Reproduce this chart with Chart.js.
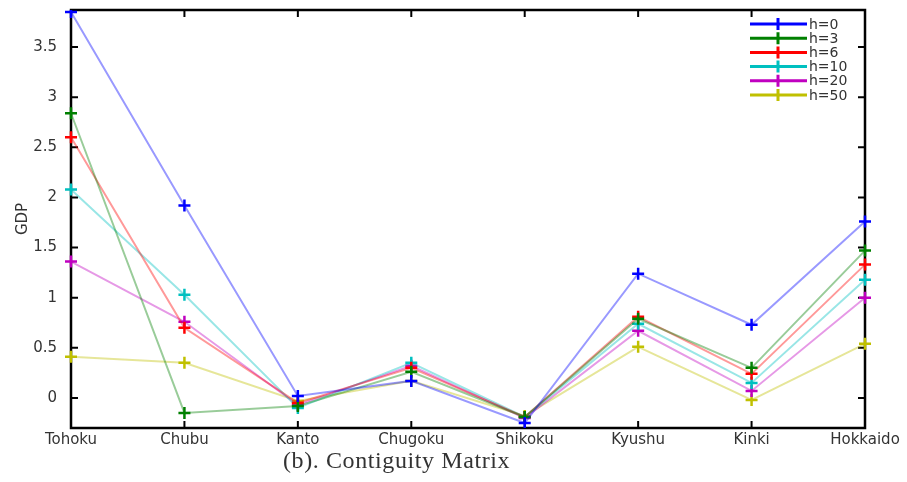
<!DOCTYPE html>
<html>
<head>
<meta charset="utf-8">
<script src="https://cdn.jsdelivr.net/npm/chart.js@4"></script>
<style>
  html, body { margin: 0; padding: 0; background: #fff; }
  #wrap { position: relative; width: 907px; height: 482px; }
  #caption {
    position: absolute; left: 283px; top: 447px;
    font: 24px 'Liberation Serif', serif; letter-spacing: 0.6px;
    color: #333; white-space: nowrap;
  }
</style>
</head>
<body>
<div id="wrap">
  <canvas id="myChart" width="907" height="482"></canvas>
  <div id="caption">(b). Contiguity Matrix</div>
</div>
<script>
const regions = ['Tohoku', 'Chubu', 'Kanto', 'Chugoku', 'Shikoku', 'Kyushu', 'Kinki', 'Hokkaido'];

const h0  = [3.85, 1.92, 0.02, 0.17, -0.25, 1.24, 0.73, 1.76];
const h3  = [2.84, -0.15, -0.08, 0.26, -0.19, 0.79, 0.30, 1.47];
const h6  = [2.60, 0.70, -0.05, 0.30, -0.19, 0.81, 0.24, 1.33];
const h10 = [2.08, 1.03, -0.10, 0.35, -0.19, 0.74, 0.15, 1.18];
const h20 = [1.36, 0.76, -0.07, 0.32, -0.20, 0.67, 0.07, 1.00];
const h50 = [0.41, 0.35, -0.03, 0.17, -0.18, 0.51, -0.02, 0.54];

const seriesLabels = ['h=0', 'h=3', 'h=6', 'h=10', 'h=20', 'h=50'];
const yTicks = [0, 0.5, 1, 1.5, 2, 2.5, 3, 3.5];

const colors = ['0,0,255', '0,128,0', '255,0,0', '0,192,192', '192,0,192', '192,192,0'];

const ctx = document.querySelector('#myChart').getContext('2d');

function makeSet(label, values, rgb) {
    return {
        label: label,
        data: values,
        borderColor: 'rgba(' + rgb + ',0.4)',
        borderWidth: 2,
        pointStyle: 'cross',
        pointRadius: 6,
        pointBorderWidth: 2.5,
        pointBorderColor: 'rgb(' + rgb + ')',
        pointBackgroundColor: 'rgb(' + rgb + ')',
        tension: 0,
        fill: false,
    };
}

const allSeries = [h0, h3, h6, h10, h20, h50];

// box round the plot, with ticks pointing inward on all four sides
const frame = {
    id: 'frame',
    beforeDatasetsDraw(chart) {
        const a = chart.chartArea;
        const c = chart.ctx;
        const x = chart.scales.x;
        const y = chart.scales.y;
        c.save();
        c.strokeStyle = '#000';
        c.lineWidth = 2.5;
        c.strokeRect(a.left, a.top, a.right - a.left, a.bottom - a.top);
        c.lineWidth = 2;
        c.beginPath();
        yTicks.forEach(v => {
            const py = y.getPixelForValue(v);
            c.moveTo(a.left, py); c.lineTo(a.left + 7, py);
            c.moveTo(a.right, py); c.lineTo(a.right - 7, py);
        });
        regions.forEach((r, i) => {
            const px = x.getPixelForValue(i);
            c.moveTo(px, a.bottom); c.lineTo(px, a.bottom - 7);
            c.moveTo(px, a.top); c.lineTo(px, a.top + 7);
        });
        c.stroke();
        c.restore();
    },
    afterDraw(chart) {
        // key in the top right corner
        const c = chart.ctx;
        c.save();
        c.font = '14px "DejaVu Sans"';
        c.textBaseline = 'middle';
        chart.data.datasets.forEach((ds, i) => {
            const ly = 24 + i * 14.2;
            const col = ds.pointBorderColor;
            c.strokeStyle = col;
            c.lineWidth = 3;
            c.beginPath();
            c.moveTo(750, ly); c.lineTo(807, ly);
            c.moveTo(778, ly - 6); c.lineTo(778, ly + 6);
            c.stroke();
            c.fillStyle = '#333';
            c.fillText(ds.label, 809, ly + 1);
        });
        c.restore();
    }
};

const config = {
    type: 'line',
    data: {
        labels: regions,
        datasets: seriesLabels.map((l, i) => makeSet(l, allSeries[i], colors[i])),
    },
    options: {
        responsive: false,
        animation: false,
        layout: { padding: { left: 0, right: 42, top: 10, bottom: 0 } },
        plugins: {
            legend: { display: false },
            tooltip: { enabled: false },
        },
        scales: {
            x: {
                offset: false,
                grid: { display: false },
                border: { display: false },
                ticks: {
                    color: '#333',
                    font: { family: 'DejaVu Sans', size: 15 },
                    padding: -5,
                    maxRotation: 0,
                    autoSkip: false,
                },
                afterFit(scale) {
                    scale.height = 54;
                    scale.paddingLeft = 0;
                    scale.paddingRight = 0;
                },
            },
            y: {
                min: -0.3,
                max: 3.87,
                grid: { display: false },
                border: { display: false },
                afterBuildTicks(scale) {
                    scale.ticks = yTicks.map(v => ({ value: v }));
                },
                ticks: {
                    color: '#333',
                    font: { family: 'DejaVu Sans', size: 15 },
                    padding: 6,
                    callback: v => String(v),
                },
                title: {
                    display: true,
                    text: 'GDP',
                    color: '#333',
                    font: { family: 'DejaVu Sans', size: 15 },
                    padding: { top: 14, bottom: 0 },
                },
                afterFit(scale) {
                    scale.width = 71;
                    scale.paddingTop = 0;
                    scale.paddingBottom = 0;
                },
            },
        },
    },
    plugins: [frame],
};

const myChart = new Chart(ctx, config);
</script>
</body>
</html>
